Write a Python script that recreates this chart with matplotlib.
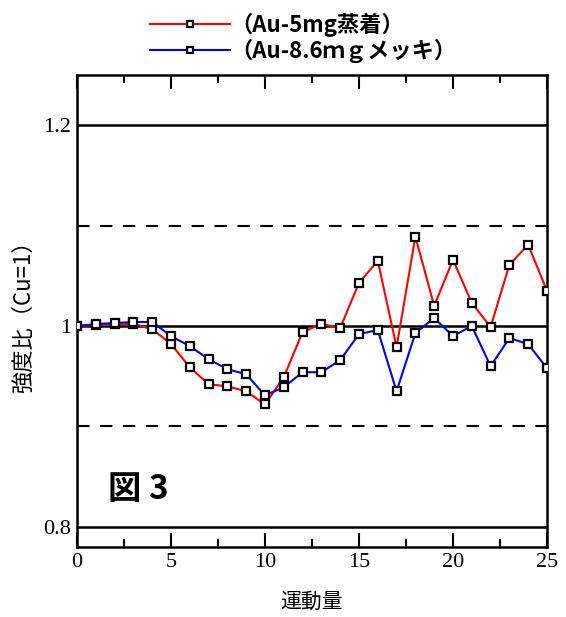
import numpy as np
import matplotlib.pyplot as plt
from matplotlib.ticker import MultipleLocator

plt.rcParams['font.family'] = ['Noto Sans CJK JP', 'DejaVu Sans']

# データ
x = list(range(26))
au_vapor = [1.000, 1.001, 1.002, 1.002, 0.997, 0.982, 0.959, 0.942, 0.940, 0.935,
            0.922, 0.949, 0.994, 1.002, 0.998, 1.043, 1.065, 0.979, 1.089, 1.020,
            1.066, 1.023, 0.999, 1.061, 1.081, 1.035]
au_plate = [1.000, 1.002, 1.003, 1.004, 1.004, 0.990, 0.980, 0.967, 0.957, 0.952,
            0.931, 0.939, 0.954, 0.954, 0.966, 0.992, 0.996, 0.935, 0.993, 1.008,
            0.990, 1.000, 0.960, 0.988, 0.982, 0.958]
labels = ['（Au-5mg蒸着）', '（Au-8.6ｍｇメッキ）']
solid_levels = [0.8, 1.0, 1.2]
dashed_levels = [0.9, 1.1]

fig = plt.figure(figsize=(5.66, 6.17), dpi=100)
ax = fig.add_axes([0.136, 0.1135, 0.8304, 0.765])

for lv in solid_levels:
    ax.axhline(lv, color='black', lw=1.8, zorder=1)
for lv in dashed_levels:
    ax.axhline(lv, color='black', lw=1.5, ls=(0, (6, 5)), zorder=1)

mk = dict(marker='s', markersize=6.3, markerfacecolor='white',
          markeredgecolor='black', markeredgewidth=1.6)
l1, = ax.plot(x, au_vapor, color='red', lw=1.5, zorder=3, **mk)
l2, = ax.plot(x, au_plate, color='blue', lw=1.5, zorder=3, **mk)

ax.set_xlim(0, 25)
ax.set_ylim(0.78, 1.25)
ax.xaxis.set_major_locator(MultipleLocator(5))
ax.xaxis.set_minor_locator(MultipleLocator(2.5))
ax.set_yticks(solid_levels)
ax.set_yticklabels(['0.8', '1', '1.2'])
ax.tick_params(axis='x', which='major', direction='in', length=10, width=1.5,
               top=True, pad=4)
ax.tick_params(axis='x', which='minor', direction='in', length=6, width=1.5, top=True)
ax.tick_params(axis='y', length=0, pad=4)
for lab in ax.get_xticklabels() + ax.get_yticklabels():
    lab.set_fontfamily('Liberation Serif')
    lab.set_fontsize(16)
for s in ax.spines.values():
    s.set_linewidth(1.8)

ax.set_ylabel('強度比（Cu=1）', fontsize=16, labelpad=6)
ax.set_xlabel('運動量', fontsize=15, labelpad=14)

ax.text(0.066, 0.121, '図 3', transform=ax.transAxes, fontsize=24,
        fontweight='bold', va='center', ha='left')

fig.legend([l1, l2], labels, loc='upper left', bbox_to_anchor=(150 / 566, 1 - 13 / 617),
           frameon=False, prop={'weight': 'bold', 'size': 16},
           handlelength=3.6, handletextpad=0.0, labelspacing=0.05,
           borderpad=0, borderaxespad=0, markerscale=0.75)

fig.savefig('out.png', dpi=100)
